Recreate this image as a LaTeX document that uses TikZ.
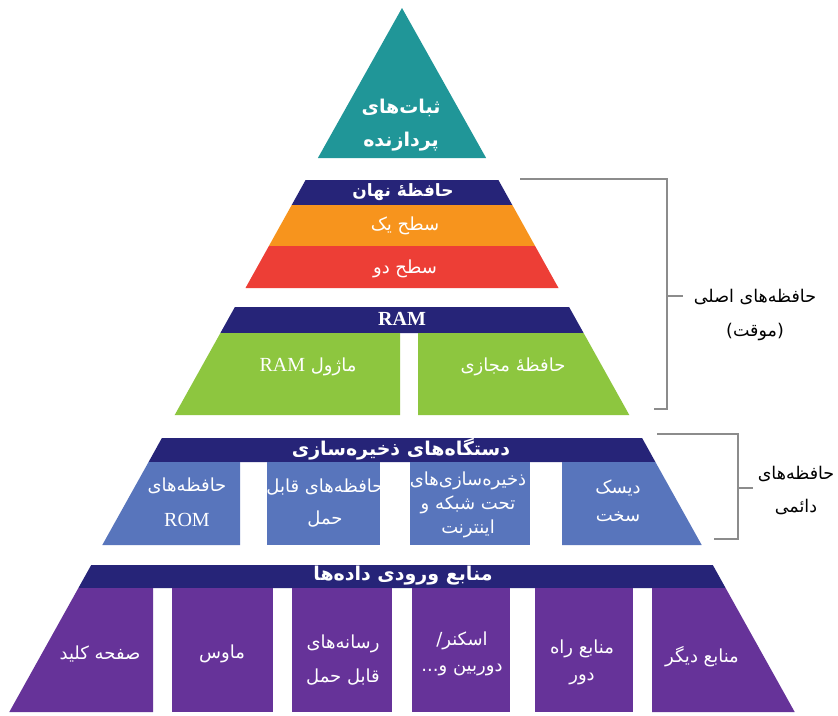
\documentclass[tikz,border=0pt]{standalone}
\usepackage{fontspec}
\setmainfont{Liberation Serif}
\newfontfamily\fafont[Script=Arabic]{DejaVu Sans}
\TeXXeTstate=1
\newcommand\farsi[1]{{\fafont\beginR #1\endR}}
\definecolor{cteal}{RGB}{32,150,152}
\definecolor{cnavy}{RGB}{38,36,120}
\definecolor{corange}{RGB}{247,148,29}
\definecolor{cred}{RGB}{237,62,54}
\definecolor{cgreen}{RGB}{141,198,63}
\definecolor{cblue}{RGB}{88,117,188}
\definecolor{cpurple}{RGB}{102,51,153}
\definecolor{cbrk}{RGB}{140,140,140}
\begin{document}
\begin{tikzpicture}[x=1pt,y=-1pt,
  txt/.style={text=white,font=\fontsize{18}{21}\selectfont,inner sep=0pt},
  ttl/.style={text=white,font=\fafont\bfseries\fontsize{19}{22}\selectfont,inner sep=0pt},
  lbl/.style={text=black,font=\fontsize{17.5}{21}\selectfont,inner sep=0pt},
  brk/.style={draw=cbrk,line width=1.4pt}]
\useasboundingbox (0,0) rectangle (838,715);
\fill[white] (0,0) rectangle (838,715);
% top triangle
\fill[cteal] (402,8) -- (486.1,158) -- (317.9,158) -- cycle;
% cache band
\fill[cnavy] (305.6,180) -- (498.4,180) -- (512.3,205) -- (291.7,205) -- cycle;
\fill[corange] (291.7,205) -- (512.3,205) -- (535.1,246) -- (268.9,246) -- cycle;
\fill[cred] (268.9,246) -- (535.1,246) -- (558.5,288) -- (245.5,288) -- cycle;
% RAM band
\fill[cnavy] (234.9,307) -- (569.1,307) -- (583.6,333) -- (220.4,333) -- cycle;
\fill[cgreen] (220.4,333) -- (400,333) -- (400,415) -- (174.7,415) -- cycle;
\fill[cgreen] (418,333) -- (583.6,333) -- (629.3,415) -- (418,415) -- cycle;
% storage band
\fill[cnavy] (161.9,438) -- (642.1,438) -- (655.4,462) -- (148.6,462) -- cycle;
\fill[cblue] (148.6,462) -- (240,462) -- (240,545) -- (102.3,545) -- cycle;
\fill[cblue] (267,462) rectangle (380,545);
\fill[cblue] (410,462) rectangle (530,545);
\fill[cblue] (562,462) -- (655.4,462) -- (701.7,545) -- (562,545) -- cycle;
% input band
\fill[cnavy] (91.2,565) -- (712.8,565) -- (725.6,588) -- (78.4,588) -- cycle;
\fill[cpurple] (78.4,588) -- (153,588) -- (153,712) -- (9.3,712) -- cycle;
\fill[cpurple] (172,588) rectangle (273,712);
\fill[cpurple] (292,588) rectangle (392,712);
\fill[cpurple] (412,588) rectangle (510,712);
\fill[cpurple] (535,588) rectangle (633,712);
\fill[cpurple] (652,588) -- (725.6,588) -- (794.7,712) -- (652,712) -- cycle;
% texts
\node[ttl] (t1) at (401,108) {\farsi{ثبات‌های}};
\node[ttl] (t2) at (401,142) {\farsi{پردازنده}};
\node[ttl,font=\fafont\bfseries\fontsize{17}{20}\selectfont] (cache) at (403,192) {\farsi{حافظهٔ نهان}};
\node[txt] (l1) at (405,226) {\farsi{سطح یک}};
\node[txt] (l2) at (405,269) {\farsi{سطح دو}};
\node[text=white,font=\bfseries\fontsize{20}{23}\selectfont,inner sep=0pt] (ram) at (402,319) {RAM};
\node[txt] (mod) at (308,367) {\farsi{ماژول \beginL{\rmfamily\fontsize{20}{23}\selectfont RAM}\endL}};
\node[txt] (virt) at (513,367) {\farsi{حافظهٔ مجازی}};
\node[ttl] (stor) at (401,449) {\farsi{دستگاه‌های ذخیره‌سازی}};
\node[txt] (rom1) at (187,486) {\farsi{حافظه‌های}};
\node[txt] (rom2) at (187,520) {\rmfamily\fontsize{20}{23}\selectfont ROM};
\node[txt] (port1) at (325,487) {\farsi{حافظه‌های قابل}};
\node[txt] (port2) at (325,519) {\farsi{حمل}};
\node[txt] (net1) at (468,481) {\farsi{ذخیره‌سازی‌های}};
\node[txt] (net2) at (468,505) {\farsi{تحت شبکه و}};
\node[txt] (net3) at (468,529) {\farsi{اینترنت}};
\node[txt] (hd1) at (618,488) {\farsi{دیسک}};
\node[txt] (hd2) at (618,517) {\farsi{سخت}};
\node[ttl] (inp) at (403,576) {\farsi{منابع ورودی داده‌ها}};
\node[txt] (kb) at (100,654) {\farsi{صفحه کلید}};
\node[txt] (mouse) at (222,654) {\farsi{ماوس}};
\node[txt] (med1) at (343,644) {\farsi{رسانه‌های}};
\node[txt] (med2) at (343,677) {\farsi{قابل حمل}};
\node[txt] (sc1) at (462,641) {\farsi{اسکنر/}};
\node[txt] (sc2) at (462,670) {\farsi{دوربین و...}};
\node[txt] (rem1) at (582,649) {\farsi{منابع راه}};
\node[txt] (rem2) at (582,679) {\farsi{دور}};
\node[txt] (oth) at (702,657) {\farsi{منابع دیگر}};
% brackets
\coordinate (ma) at (520,179);
\coordinate (mb) at (667,179);
\coordinate (mc) at (667,409);
\coordinate (md) at (654,409);
\coordinate (mm) at (667,296);
\coordinate (mt) at (683,296);
\draw[brk] (ma) -- (mb) -- (mc) -- (md);
\draw[brk] (mm) -- (mt);
\node[lbl] (main1) at (755,297) {\farsi{حافظه‌های اصلی}};
\node[lbl] (main2) at (755,332) {\farsi{(موقت)}};
\coordinate (pa) at (657,434);
\coordinate (pb) at (738,434);
\coordinate (pc) at (738,539);
\coordinate (pd) at (714,539);
\coordinate (pm) at (738,488);
\coordinate (pt) at (753,488);
\draw[brk] (pa) -- (pb) -- (pc) -- (pd);
\draw[brk] (pm) -- (pt);
\node[lbl] (perm1) at (796,474) {\farsi{حافظه‌های}};
\node[lbl] (perm2) at (796,507) {\farsi{دائمی}};
\end{tikzpicture}
\end{document}
